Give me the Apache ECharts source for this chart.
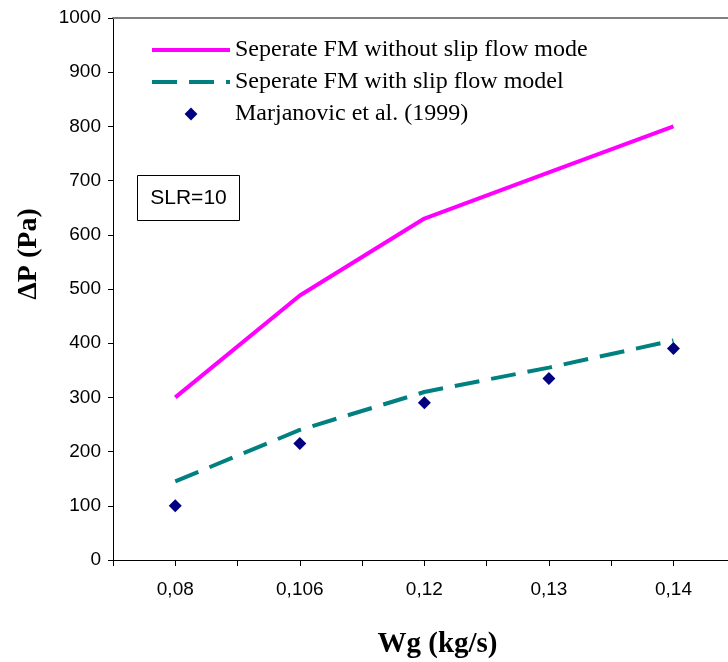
<!DOCTYPE html>
<html>
<head>
<meta charset="utf-8">
<script src="https://cdn.jsdelivr.net/npm/echarts@6/dist/echarts.min.js"></script>
<style>html,body{margin:0;padding:0;background:#fff}#c{width:728px;height:662px}</style>
</head>
<body>
<div id="c"></div>
<script>
const categories = ['0,08', '0,106', '0,12', '0,13', '0,14'];
const withoutSlip = [300, 488, 630, 715, 800];
const withSlip = [145, 240, 310, 355, 405];
const marjanovic = [100, 215, 290, 335, 390];
const yTicks = [0, 100, 200, 300, 400, 500, 600, 700, 800, 900, 1000];

const toPts = arr => arr.map((v, i) => [i, v]);
const serif = '"Liberation Serif", "Times New Roman", serif';
const sans = '"Liberation Sans", Arial, sans-serif';

const chart = echarts.init(document.getElementById('c'));
chart.setOption({
  animation: false,
  backgroundColor: '#fff',
  grid: { left: 113, top: 18, right: -70, bottom: 102, outerBoundsMode: 'none', containLabel: false },
  legend: {
    orient: 'vertical', left: 150, top: 38, padding: 0, itemWidth: 78, itemHeight: 16, itemGap: 8,
    selectedMode: false,
    lineStyle: { width: 4 },
    textStyle: { fontFamily: serif, fontSize: 24, color: '#000' },
    data: [
      { name: 'Seperate FM without slip flow mode', itemStyle: { opacity: 0 } },
      { name: 'Seperate FM with slip flow model', itemStyle: { opacity: 0 } },
      { name: 'Marjanovic et al. (1999)' }
    ]
  },
  xAxis: [{
    type: 'value', min: -0.5, max: 5, interval: 0.5,
    splitLine: { show: false },
    axisLine: { onZero: false, lineStyle: { color: '#000', width: 1 } },
    axisTick: { show: true, length: 6, lineStyle: { color: '#000' } },
    axisLabel: {
      margin: 20, fontFamily: sans, fontSize: 19, color: '#000',
      formatter: v => {
        const r = Math.round(v);
        return (Math.abs(v - r) < 1e-6 && r >= 0 && r < categories.length) ? categories[r] : '';
      }
    },
    name: 'Wg (kg/s)', nameLocation: 'middle', nameGap: 70,
    nameTextStyle: { fontFamily: serif, fontSize: 29, fontWeight: 'bold', color: '#000', padding: [0, 36, 0, 0] }
  }, {
    type: 'value', position: 'top', min: -0.5, max: 5,
    axisLine: { onZero: false, lineStyle: { color: '#808080', width: 2 } },
    axisTick: { show: false }, axisLabel: { show: false }, splitLine: { show: false }
  }],
  yAxis: {
    type: 'value', min: yTicks[0], max: yTicks[yTicks.length - 1], interval: 100,
    splitLine: { show: false },
    axisLine: { show: true, onZero: false, lineStyle: { color: '#000', width: 1 } },
    axisTick: { show: true, length: 5, lineStyle: { color: '#000' } },
    axisLabel: { margin: 12, fontFamily: sans, fontSize: 19, color: '#000', formatter: v => String(v) },
    name: 'ΔP (Pa)', nameLocation: 'middle', nameGap: 70, nameRotate: 90,
    nameTextStyle: { fontFamily: serif, fontSize: 28, fontWeight: 'bold', color: '#000', padding: [0, 0, 0, 70] }
  },
  series: [{
    name: 'Seperate FM without slip flow mode', type: 'line', data: toPts(withoutSlip),
    symbol: 'none', lineStyle: { color: '#FF00FF', width: 4 }, itemStyle: { color: '#FF00FF' }
  }, {
    name: 'Seperate FM with slip flow model', type: 'line', data: toPts(withSlip),
    symbol: 'none', lineStyle: { color: '#008080', width: 4, type: [25, 12] }, itemStyle: { color: '#008080' }
  }, {
    name: 'Marjanovic et al. (1999)', type: 'line', data: toPts(marjanovic),
    symbol: 'diamond', symbolSize: 13, showSymbol: true,
    lineStyle: { width: 0, opacity: 0 }, itemStyle: { color: '#000080', opacity: 1 }
  }],
  graphic: [{
    type: 'group', left: 137, top: 175,
    children: [
      { type: 'rect', shape: { x: 0, y: 0, width: 102, height: 45 }, style: { fill: '#fff', stroke: '#000', lineWidth: 1 } },
      { type: 'text', x: 51, y: 23, style: { text: 'SLR=10', fontFamily: sans, fontSize: 21, fill: '#000', align: 'center', verticalAlign: 'middle' } }
    ]
  }]
});
</script>
</body>
</html>
